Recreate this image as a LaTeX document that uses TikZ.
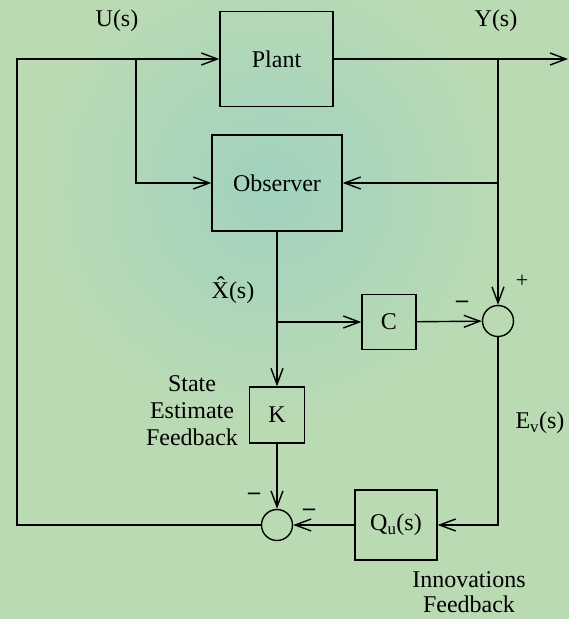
\documentclass[tikz,border=0pt]{standalone}
\usepackage{fontspec}
\setmainfont{Liberation Serif}
\usetikzlibrary{arrows.meta}

\definecolor{bggreen}{RGB}{186,218,180}
\definecolor{bgteal}{RGB}{160,210,190}

\begin{document}
\begin{tikzpicture}[x=1pt, y=-1pt, line width=1.4pt,
        >={Straight Barb[length=16pt,width=12pt,line width=1.4pt]},
        font=\fontsize{24}{27}\selectfont,
        blk/.style={draw, rectangle, inner sep=0pt},
        sumpt/.style={draw, circle, minimum size=31pt, inner sep=0pt},
        sgn/.style={font=\fontsize{24}{27}\selectfont\bfseries}]
    % background
    \useasboundingbox (0,0) rectangle (569,619);
    \fill[bggreen] (0,0) rectangle (569,619);
    \begin{scope}
        \clip (0,0) rectangle (569,619);
        \shade[inner color=bgteal, outer color=bggreen] (270,190) circle (230);
    \end{scope}

    % blocks
    \node at (276.5,59) [blk, minimum width=113pt, minimum height=95pt] (plant) {Plant};
    \node at (277,183) [blk, minimum width=130pt, minimum height=96pt] (obs) {Observer};
    \node at (389,322) [blk, minimum width=54pt, minimum height=55pt] (C) {C};
    \node at (277,415) [blk, minimum width=55pt, minimum height=56pt] (K) {K};
    \node at (396,525) [blk, minimum width=82pt, minimum height=70pt] (Qu) {Q\textsubscript{u}(s)};
    \node at (498,321) [sumpt] (sum1) {};
    \node at (277,525) [sumpt] (sum2) {};

    % branch points
    \coordinate (ubr) at (136,59);
    \coordinate (ybr) at (498,59);
    \coordinate (xbr) at (277,322);
    \coordinate (fbl) at (17,525);
    \coordinate (fbt) at (17,59);
    \coordinate (out) at (568,59);

    % signals
    \draw[->] (sum2) -- (fbl) -- (fbt) -- (plant);
    \draw[->] (ubr) |- (obs);
    \draw[->] (plant) -- (out);
    \draw[->] (ybr) -- (sum1);
    \draw[->] (ybr |- obs) -- (obs);
    \draw[->] (obs) -- (K);
    \draw[->] (xbr) -- (C);
    \draw[->] (C) -- (sum1);
    \draw[->] (sum1) |- (Qu);
    \draw[->] (Qu) -- (sum2);
    \draw[->] (K) -- (sum2);

    % labels
    \node at (117,21) (ulab) {U(s)};
    \node at (496,21) (ylab) {Y(s)};
    \node at (233,290) (xlab) {\^{X}(s)};
    \node at (540,423) (elab) {E\textsubscript{v}(s)};
    \node at (192,411) [align=center, font=\fontsize{24}{27}\selectfont] (kfb) {State\\Estimate\\Feedback};
    \node at (469,592) [align=center, font=\fontsize{24}{25}\selectfont] (qfb) {Innovations\\Feedback};
    \node at (522,281) [font=\fontsize{22}{24}\selectfont] (plus1) {+};
    \node at (462,304) [sgn] (min1) {--};
    \node at (254,496) [sgn] (min2) {--};
    \node at (309,512) [sgn] (min3) {--};
\end{tikzpicture}
\end{document}
